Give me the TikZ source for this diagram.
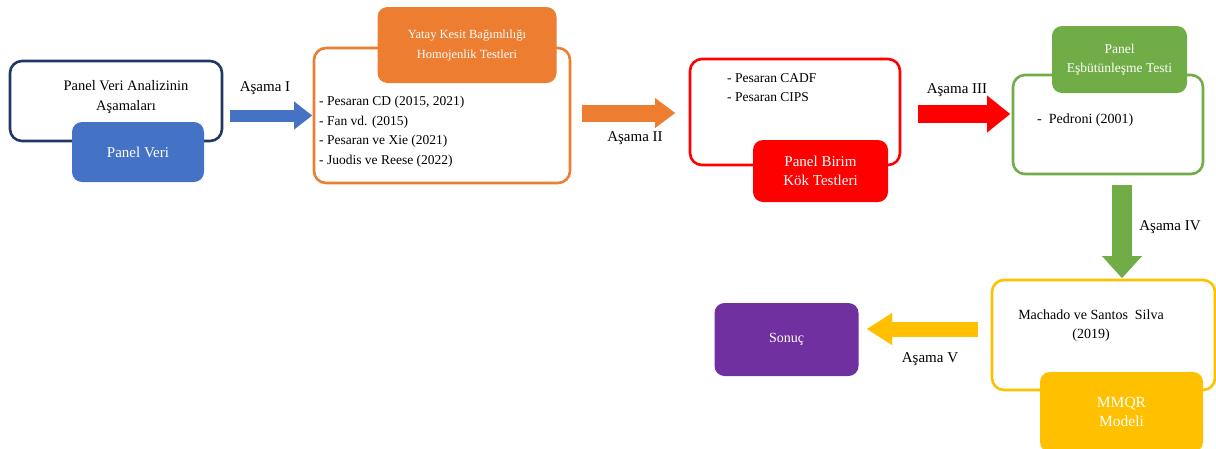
\documentclass[tikz,border=0pt]{standalone}
\usepackage{fontspec}
\setmainfont{Liberation Serif}
\usetikzlibrary{arrows.meta, positioning}
\definecolor{navyline}{HTML}{203864}
\definecolor{bluefill}{HTML}{4472C4}
\definecolor{orangefill}{HTML}{ED7D31}
\definecolor{redfill}{HTML}{FF0000}
\definecolor{greenfill}{HTML}{70AD47}
\definecolor{goldfill}{HTML}{FFC000}
\definecolor{purplefill}{HTML}{7030A0}
\tikzset{
  frame/.style={draw=#1, line width=2.6pt, rounded corners=12pt, fill=white, inner sep=0pt},
  tag/.style={fill=#1, rounded corners=10pt, text=white, align=center, inner sep=0pt},
  body/.style={font=\fontsize{13.5}{19.5}\selectfont, inner sep=0pt},
  stagelabel/.style={font=\fontsize{15}{17}\selectfont, inner sep=0pt},
  bigarrow/.style n args={4}{draw=#1, line width=#2pt,
    -{Triangle[length=#4pt, width=#3pt, line width=0.01pt]}}
}

\begin{document}
\begin{tikzpicture}[x=1pt, y=-1pt]
    \useasboundingbox (0,0) rectangle (1216,448);

    \node[frame=navyline, minimum width=212, minimum height=80] (b1) at (116,101) {};
    \node[tag=bluefill, minimum width=132, minimum height=60, font=\fontsize{15}{18}\selectfont] (pv) at (138,152) {Panel Veri};
    \node[body, align=center, font=\fontsize{14.5}{20}\selectfont] (t1) at (126,97) {Panel Veri Analizinin\\Aşamaları};

    \node[frame=orangefill, minimum width=256, minimum height=135] (b2) at (442,115.5) {};
    \node[tag=orangefill, minimum width=179, minimum height=76, font=\fontsize{12.5}{20}\selectfont] (yk) at (467,45) {Yatay Kesit Bağımlılığı\\Homojenlik Testleri};
    \node[body, align=left, anchor=north west] (t2) at (319,96) {- Pesaran CD (2015, 2021)\\- Fan vd. (2015)\\- Pesaran ve Xie (2021)\\- Juodis ve Reese (2022)};

    \node[frame=redfill, minimum width=210, minimum height=106] (b3) at (795,112) {};
    \node[tag=redfill, minimum width=135, minimum height=62, font=\fontsize{15}{19}\selectfont] (pb) at (820.5,171) {Panel Birim\\Kök Testleri};
    \node[body, align=left, anchor=north west] (t3) at (727,73) {- Pesaran CADF\\- Pesaran CIPS};

    \node[frame=greenfill, minimum width=190, minimum height=99] (b4) at (1108,124.5) {};
    \node[tag=greenfill, minimum width=135, minimum height=67, font=\fontsize{13.5}{19}\selectfont] (pe) at (1119.5,59.5) {Panel\\Eşbütünleşme Testi};
    \node[body, anchor=west, font=\fontsize{14}{19}\selectfont] (t4) at (1037,120) {-~ Pedroni (2001)};

    \node[frame=goldfill, minimum width=223, minimum height=110] (b5) at (1103.5,335) {};
    \node[tag=goldfill, minimum width=163, minimum height=80, font=\fontsize{15.5}{19}\selectfont] (mm) at (1121.5,412) {MMQR\\Modeli};
    \node[body, align=center, font=\fontsize{14}{19}\selectfont] (t5) at (1091,326) {Machado ve Santos~ Silva\\(2019)};

    \node[tag=purplefill, minimum width=144, minimum height=73, font=\fontsize{14}{17}\selectfont] (so) at (786.5,339.5) {Sonuç};

    \coordinate (a1s) at (230,115.5);
    \coordinate (a1e) at (312,115.5);
    \coordinate (a2s) at (582,113);
    \coordinate (a2e) at (675,113);
    \coordinate (a3s) at (918,114);
    \coordinate (a3e) at (1010,114);
    \coordinate (a4s) at (1122,185);
    \coordinate (a4e) at (1122,278);
    \coordinate (a5s) at (978,329);
    \coordinate (a5e) at (867,329);

    \draw[bigarrow={bluefill}{12}{28}{18}] (a1s) -- (a1e);
    \draw[bigarrow={orangefill}{17}{30}{20}] (a2s) -- (a2e);
    \draw[bigarrow={redfill}{18}{37}{23}] (a3s) -- (a3e);
    \draw[bigarrow={greenfill}{20}{40}{22}] (a4s) -- (a4e);
    \draw[bigarrow={goldfill}{15}{32}{25}] (a5s) -- (a5e);

    \node[stagelabel] (l1) at (265,88) {Aşama I};
    \node[stagelabel] (l2) at (635,138) {Aşama II};
    \node[stagelabel] (l3) at (957,90) {Aşama III};
    \node[stagelabel] (l4) at (1170,227) {Aşama IV};
    \node[stagelabel] (l5) at (930,359) {Aşama V};
\end{tikzpicture}
\end{document}
